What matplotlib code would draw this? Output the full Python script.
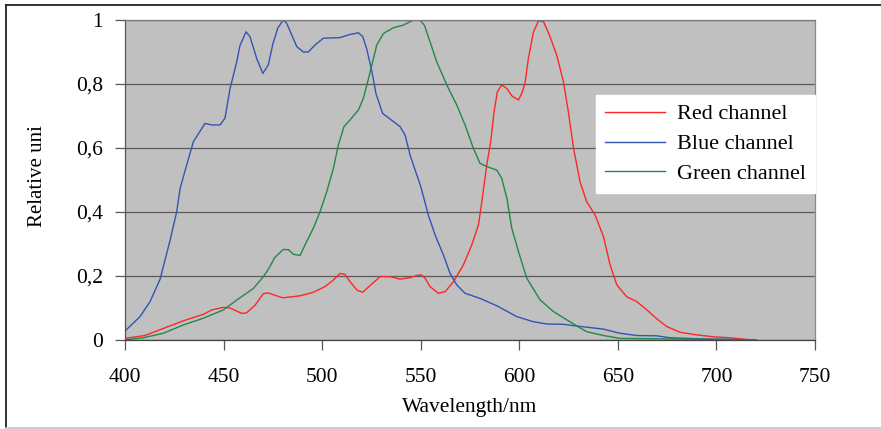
import matplotlib.pyplot as plt
from matplotlib.lines import Line2D

# wavelength (nm) / relative response
blue_wl = [400, 407.6, 412.7, 417.8, 422.8, 426.2, 428, 431.3, 434.7, 440.6, 444, 448.2,
           450.7, 453.3, 456.7, 458.3, 461.4, 463.4, 466.8, 469.9, 472.7, 475, 477.5,
           480.3, 482, 484.6, 487.1, 490.5, 493, 496.4, 500.6, 509.1, 514.2, 518.4,
           520.6, 522.6, 525.2, 527.3, 530.7, 539.5, 542.1, 544.6, 548, 550, 553.9,
           557.3, 561.5, 564.9, 568.3, 572.5, 580.1, 588.6, 598.7, 607.2, 614, 622.4,
           630, 642.7, 651.1, 659.6, 669.7, 676.5, 690, 705, 720]
blue_val = [0.028, 0.073, 0.12, 0.19, 0.31, 0.40, 0.475, 0.547, 0.62, 0.677, 0.672, 0.672,
            0.693, 0.786, 0.87, 0.92, 0.963, 0.948, 0.88, 0.833, 0.86, 0.925, 0.975,
            1.0, 0.99, 0.953, 0.917, 0.9, 0.9, 0.922, 0.943, 0.945, 0.955, 0.96,
            0.948, 0.91, 0.84, 0.77, 0.708, 0.667, 0.64, 0.578, 0.516, 0.48, 0.39,
            0.328, 0.266, 0.208, 0.172, 0.146, 0.13, 0.107, 0.073, 0.057, 0.05, 0.049,
            0.043, 0.034, 0.021, 0.014, 0.013, 0.007, 0.004, 0.002, 0.0]

green_wl = [400, 409.3, 419.4, 429.6, 439.7, 449.9, 456.7, 465.1, 470.2, 473, 476, 480.3,
            483, 485.4, 488.8, 491.3, 495.5, 498.9, 502.3, 505.7, 508.2, 511.1, 514.2,
            518.4, 520.9, 523.1, 525.2, 527.7, 531.1, 536.2, 541.2, 546.3, 549.7, 552,
            554, 558.1, 563.2, 568.3, 572.5, 576.7, 580.1, 583.5, 588.6, 591.1, 593.7,
            596.2, 599.6, 603.8, 610.6, 617.3, 624.1, 630.5, 634.2, 642.7, 651.1, 680, 720]
green_val = [0.0, 0.007, 0.021, 0.047, 0.068, 0.094, 0.125, 0.161, 0.198, 0.224, 0.258, 0.283,
             0.282, 0.268, 0.264, 0.297, 0.349, 0.40, 0.463, 0.536, 0.609, 0.667, 0.688,
             0.719, 0.755, 0.807, 0.859, 0.922, 0.958, 0.976, 0.984, 1.0, 1.0, 0.982,
             0.945, 0.87, 0.797, 0.734, 0.672, 0.599, 0.552, 0.542, 0.531, 0.505, 0.443,
             0.349, 0.276, 0.193, 0.125, 0.089, 0.063, 0.039, 0.026, 0.014, 0.005, 0.003, 0.001]

red_wl = [400, 410.1, 419.4, 429.6, 439.7, 444, 449.9, 453.3, 459.2, 461.7, 466, 470.2,
          472.7, 478.3, 480.3, 488.8, 495.5, 501.5, 505.7, 509.1, 511.6, 514.2, 517.6,
          520.6, 524.3, 529.4, 534.5, 539.5, 544.6, 548.8, 550.5, 552.2, 554.7, 559,
          562.4, 566.6, 571.6, 575.9, 579.3, 581, 583.5, 585.5, 587.2, 588.9, 591.1,
          593.7, 596.2, 599.6, 601.3, 602.9, 604.6, 607.2, 609.7, 612.3, 615.6, 619,
          622.4, 624.9, 627.5, 630.8, 634.2, 638.5, 642.7, 646.1, 649.5, 654.5, 659.6,
          664.7, 669.8, 674.8, 681.6, 690, 698.5, 706.6, 718]
red_val = [0.005, 0.014, 0.036, 0.06, 0.08, 0.094, 0.102, 0.1, 0.083, 0.085, 0.109, 0.145,
           0.147, 0.135, 0.132, 0.138, 0.149, 0.167, 0.1875, 0.208, 0.205, 0.182, 0.156,
           0.149, 0.17, 0.198, 0.198, 0.19, 0.195, 0.203, 0.203, 0.193, 0.167, 0.146,
           0.151, 0.182, 0.234, 0.297, 0.36, 0.432, 0.547, 0.62, 0.713, 0.776, 0.797,
           0.786, 0.763, 0.75, 0.771, 0.802, 0.88, 0.963, 0.997, 0.995, 0.948, 0.89,
           0.807, 0.713, 0.6, 0.495, 0.432, 0.39, 0.323, 0.234, 0.172, 0.135, 0.12,
           0.094, 0.066, 0.042, 0.024, 0.016, 0.01, 0.007, 0.0]

x_ticks = [400, 450, 500, 550, 600, 650, 700, 750]
y_ticks = [0, 0.2, 0.4, 0.6, 0.8, 1.0]
y_tick_labels = ['0', '0,2', '0,4', '0,6', '0,8', '1']

plt.rcParams['font.family'] = ['Liberation Serif', 'DejaVu Serif']

fig = plt.figure(figsize=(8.81, 4.29), dpi=100)
ax = fig.add_axes([125 / 881, 1 - 340 / 429, 690 / 881, 320 / 429])
ax.set_facecolor('#c0c0c0')

ax.plot(red_wl, red_val, color='#ff2626', lw=1.0, label='Red channel')
ax.plot(blue_wl, blue_val, color='#3354b5', lw=1.0, label='Blue channel')
ax.plot(green_wl, green_val, color='#1f8a45', lw=1.0, label='Green channel')

ax.set_xlim(400, 750)
ax.set_ylim(0, 1)
ax.set_xticks(x_ticks)
ax.set_yticks(y_ticks)
ax.set_yticklabels(y_tick_labels)
ax.grid(axis='y', color='#5a5a5a', lw=0.9)
ax.set_axisbelow(True)
ax.tick_params(labelsize=15.5, length=7, width=0.9, color='#555555')
ax.tick_params(axis='y', pad=9)
ax.tick_params(axis='x', pad=13)

ax.spines['left'].set_color('#555555')
ax.spines['bottom'].set_color('#404040')
ax.spines['top'].set_color('#7a7a7a')
ax.spines['right'].set_color('#8a8a8a')
for s in ax.spines.values():
    s.set_linewidth(0.9)

ax.set_xlabel('Wavelength/nm', fontsize=15.5, labelpad=8)
fig.text(37 / 881, 1 - 176 / 429, 'Relative uni', rotation=90, fontsize=15,
         ha='center', va='center')

leg = ax.legend(loc='upper right', bbox_to_anchor=(815 / 881, 1 - 95 / 429),
                bbox_transform=fig.transFigure, fontsize=16, frameon=True,
                fancybox=False, borderaxespad=0, handlelength=2.7,
                labelspacing=0.42, borderpad=0.4, handletextpad=0.55)
leg.get_frame().set_facecolor('white')
leg.get_frame().set_edgecolor('white')
leg.get_frame().set_alpha(1)

# outer frame
fig.add_artist(Line2D([6 / 881, 6 / 881], [0.002, 1 - 4.5 / 429], color='#222222', lw=1.3))
fig.add_artist(Line2D([6 / 881, 1], [1 - 4.5 / 429, 1 - 4.5 / 429], color='#222222', lw=1.3))
fig.add_artist(Line2D([6 / 881, 1], [0.003, 0.003], color='#c8c8c8', lw=1.3))

fig.savefig('out.png', dpi=100)
